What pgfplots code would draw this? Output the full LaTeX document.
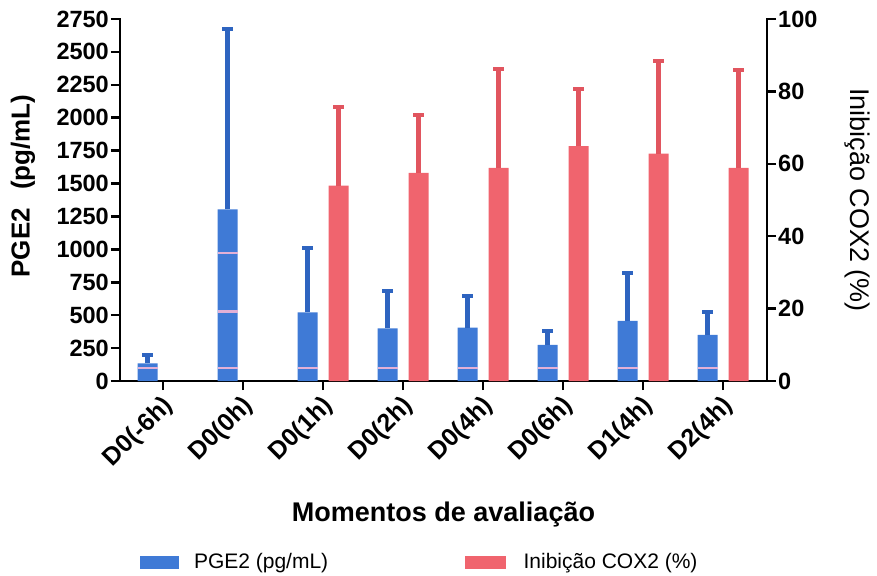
\documentclass[border=0pt]{standalone}
\usepackage{pgfplots}
\usepackage{pgfplotstable}
\pgfplotsset{compat=1.18}
\usepackage{fontspec}
\setmainfont{Liberation Sans}
\definecolor{pgeblue}{RGB}{63,122,214}
\definecolor{pgebluedark}{RGB}{46,100,192}
\definecolor{coxred}{RGB}{240,100,110}
\definecolor{coxreddark}{RGB}{225,85,95}
\definecolor{stripe}{RGB}{226,176,214}
\newcommand\tickfont{\fontsize{23.5}{23.5}\selectfont\bfseries}
\newcommand\xtickfont{\fontsize{25}{25}\selectfont\bfseries}
\newcommand\labfont{\fontsize{26}{26}\selectfont\bfseries}
\newcommand\rlabfont{\fontsize{27}{27}\selectfont}
\newcommand\titfont{\fontsize{27}{27}\selectfont\bfseries}
\newcommand\legfont{\fontsize{21}{21}\selectfont}

\pgfplotstableread{
x   y     e
0   134   63
1   1304  1368
2   522   491
3   400   284
4   405   241
5   274   106
6   456   367
7   350   172
}\pgedata

\pgfplotstableread{
x   y     e
2   54.0  21.8
3   57.5  16.0
4   58.9  27.2
5   64.9  15.7
6   62.8  25.7
7   58.9  27.0
}\coxdata

\pgfplotsset{
  common/.style={
    scale only axis, width=647pt, height=362pt,
    xmin=-0.54, xmax=7.55, ymin=0,
    axis line style={-, line width=2.5pt, line cap=rect},
    tick style={line width=2.5pt, black},
    major tick length=9pt,
    tick align=outside,
    scaled ticks=false,
    /pgf/number format/assume math mode=true,
    /pgf/number format/1000 sep={},
    yticklabel style={font=\tickfont},
    xticklabel style={font=\xtickfont},
  }
}

\begin{document}
\begin{tikzpicture}
\path (-120pt,-194pt) rectangle (757pt,381pt);
\begin{axis}[
  common,
  ymax=2750,
  axis x line*=bottom, axis y line*=left,
  xtick={0,...,7},
  xticklabels={D0(-6h),D0(0h),D0(1h),D0(2h),D0(4h),D0(6h),D1(4h),D2(4h)},
  xticklabel style={rotate=45, anchor=north east, inner sep=1pt, xshift=-3pt},
  ytick={0,250,...,2750},
  yticklabel style={inner sep=2pt},
  every axis y label/.style={at={(rel axis cs:0,0.5)}, anchor=center, xshift=-97pt, yshift=14pt, rotate=90, font=\labfont},
  ylabel={PGE2\hspace{0.7em}(pg/mL)},
  every axis x label/.style={at={(rel axis cs:0.5,0)}, anchor=center, yshift=-134pt, font=\titfont},
  xlabel={Momentos de avaliação},
]
\addplot[ybar, bar width=20pt, bar shift=0pt, fill=pgeblue, draw=none,
  error bars/.cd, y dir=plus, y explicit,
  error bar style={line width=5pt, pgebluedark},
  error mark options={rotate=90, line width=4pt, mark size=5.5pt, pgebluedark}]
  table[x expr=\thisrow{x}-0.194, y=y, y error=e] {\pgedata};
\addplot[draw=stripe, line width=2.5pt, unbounded coords=jump] coordinates {
  (-0.319,97) (-0.069,97) (-0.2,nan)
  (0.681,97) (0.931,97) (0.8,nan)
  (0.681,527) (0.931,527) (0.8,nan)
  (0.681,973) (0.931,973) (0.8,nan)
  (1.681,97) (1.931,97) (1.8,nan)
  (2.681,97) (2.931,97) (2.8,nan)
  (3.681,97) (3.931,97) (3.8,nan)
  (4.681,97) (4.931,97) (4.8,nan)
  (5.681,97) (5.931,97) (5.8,nan)
  (6.681,97) (6.931,97)
};
\end{axis}
\begin{axis}[
  common,
  ymax=100,
  axis x line=none, axis y line*=right,
  ytick={0,20,...,100},
  yticklabel style={inner sep=2pt},
  every axis y label/.style={at={(rel axis cs:1,0.5)}, anchor=center, xshift=90pt, rotate=-90, font=\rlabfont},
  ylabel={Inibição COX2 (\%)},
  legend style={at={(rel axis cs:0.03,-0.5)}, anchor=west, draw=none, fill=none,
    legend columns=2, font=\legfont, inner sep=0pt,
    /tikz/every even column/.append style={column sep=135pt}},
  legend cell align=left,
]
\addplot[ybar, bar width=20pt, bar shift=0pt, fill=coxred, draw=none, forget plot,
  error bars/.cd, y dir=plus, y explicit,
  error bar style={line width=5pt, coxreddark},
  error mark options={rotate=90, line width=4pt, mark size=5.5pt, coxreddark}]
  table[x expr=\thisrow{x}+0.194, y=y, y error=e] {\coxdata};
\addlegendimage{legend image code/.code={\fill[pgeblue] (0pt,-6pt) rectangle (38pt,6pt);}}
\addlegendentry{\hspace{14pt}PGE2 (pg/mL)}
\addlegendimage{legend image code/.code={\fill[coxred] (0pt,-6pt) rectangle (40pt,6pt);}}
\addlegendentry{\hspace{16pt}Inibição COX2 (\%)}
\end{axis}
\end{tikzpicture}
\end{document}
